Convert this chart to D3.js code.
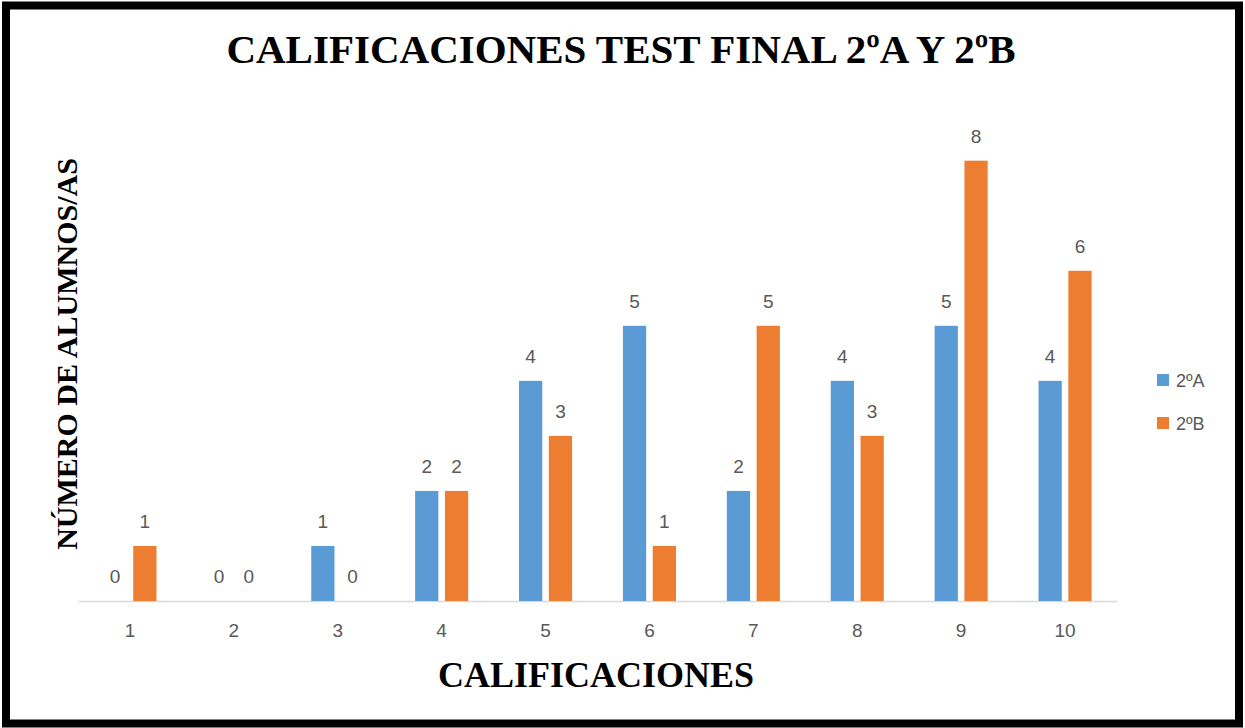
<!DOCTYPE html>
<html>
<head>
<meta charset="utf-8">
<script src="https://cdn.jsdelivr.net/npm/d3@7"></script>
<style>
  body { margin: 0; background: #fff; }
  svg { display: block; }
</style>
</head>
<body>
<div id="chart"></div>
<script>
// Data
var categories = ["1", "2", "3", "4", "5", "6", "7", "8", "9", "10"];
var seriesNames = ["2ºA", "2ºB"];
var values2A = [0, 0, 1, 2, 4, 5, 2, 4, 5, 4];
var values2B = [1, 0, 0, 2, 3, 1, 5, 3, 8, 6];
var colors = ["#5b9bd5", "#ed7d31"];

var svgWidth = 1245;
var svgHeight = 728;

// plot area
var plotLeft = 78, plotRight = 1117;
var plotBottom = 601;
var unit = 55.04; // px per student

var svg = d3.select("#chart")
    .append("svg")
    .attr("width", svgWidth)
    .attr("height", svgHeight);

// black frame
svg.append("rect")
    .attr("x", 6)
    .attr("y", 5.5)
    .attr("width", 1233)
    .attr("height", 718)
    .attr("fill", "#fff")
    .attr("stroke", "#000")
    .attr("stroke-width", 8);

// scales
var x0 = d3.scaleBand()
    .domain(categories)
    .range([plotLeft, plotRight])
    .padding(0);

var x1 = d3.scaleBand()
    .domain(seriesNames)
    .range([0, x0.bandwidth()])
    .paddingInner(0.22)
    .paddingOuter(0.853);

var y = d3.scaleLinear()
    .domain([0, 9])
    .range([plotBottom, plotBottom - 9 * unit]);

// title
svg.append("text")
    .attr("x", 621)
    .attr("y", 63)
    .attr("text-anchor", "middle")
    .style("font-family", "'Liberation Serif', 'Times New Roman', serif")
    .style("font-weight", "bold")
    .style("font-size", "41px")
    .attr("fill", "#000")
    .text("CALIFICACIONES TEST FINAL 2ºA Y 2ºB");

// x axis
var xAxis = svg.append("g")
    .attr("transform", `translate(0, ${plotBottom})`)
    .call(d3.axisBottom(x0).tickSize(0).tickPadding(23));

xAxis.select(".domain")
    .attr("stroke", "#d9d9d9")
    .attr("stroke-width", 1.3);

xAxis.selectAll("text")
    .style("font-family", "'Liberation Sans', Arial, sans-serif")
    .style("font-size", "19px")
    .attr("fill", "#595959");

// bars, one group per category
var rows = categories.map((c, i) => ({
    cat: c,
    vals: [values2A[i], values2B[i]]
}));

var groups = svg.selectAll("g.cat")
    .data(rows)
    .join("g")
    .attr("class", "cat")
    .attr("transform", d => `translate(${x0(d.cat)}, 0)`);

groups.selectAll("rect")
    .data(d => d.vals.map((v, j) => ({ name: seriesNames[j], v: v, j: j })))
    .join("rect")
    .attr("x", d => x1(d.name))
    .attr("width", x1.bandwidth())
    .attr("y", d => y(d.v))
    .attr("height", d => y(0) - y(d.v))
    .attr("fill", d => colors[d.j]);

// value labels
groups.selectAll("text.val")
    .data(d => d.vals.map((v, j) => ({ name: seriesNames[j], v: v })))
    .join("text")
    .attr("class", "val")
    .attr("x", d => x1(d.name) + x1.bandwidth() / 2)
    .attr("y", d => y(d.v) - 18)
    .attr("text-anchor", "middle")
    .style("font-family", "'Liberation Sans', Arial, sans-serif")
    .style("font-size", "19px")
    .attr("fill", "#595959")
    .text(d => d.v);

// axis titles
svg.append("text")
    .attr("x", 596)
    .attr("y", 687)
    .attr("text-anchor", "middle")
    .style("font-family", "'Liberation Serif', 'Times New Roman', serif")
    .style("font-weight", "bold")
    .style("font-size", "36px")
    .attr("fill", "#000")
    .text("CALIFICACIONES");

svg.append("text")
    .attr("transform", "rotate(-90)")
    .attr("x", -354)
    .attr("y", 77)
    .attr("text-anchor", "middle")
    .style("font-family", "'Liberation Serif', 'Times New Roman', serif")
    .style("font-weight", "bold")
    .style("font-size", "30px")
    .attr("fill", "#000")
    .text("NÚMERO DE ALUMNOS/AS");

// legend
var legend = svg.append("g")
    .attr("transform", "translate(1157, 374)");

var legendItems = legend.selectAll("g")
    .data(seriesNames)
    .join("g")
    .attr("transform", (d, i) => `translate(0, ${i * 43})`);

legendItems.append("rect")
    .attr("width", 12)
    .attr("height", 12)
    .attr("fill", (d, i) => colors[i]);

legendItems.append("text")
    .attr("x", 19)
    .attr("y", 13)
    .style("font-family", "'Liberation Sans', Arial, sans-serif")
    .style("font-size", "18px")
    .attr("fill", "#595959")
    .text(d => d);
</script>
</body>
</html>
